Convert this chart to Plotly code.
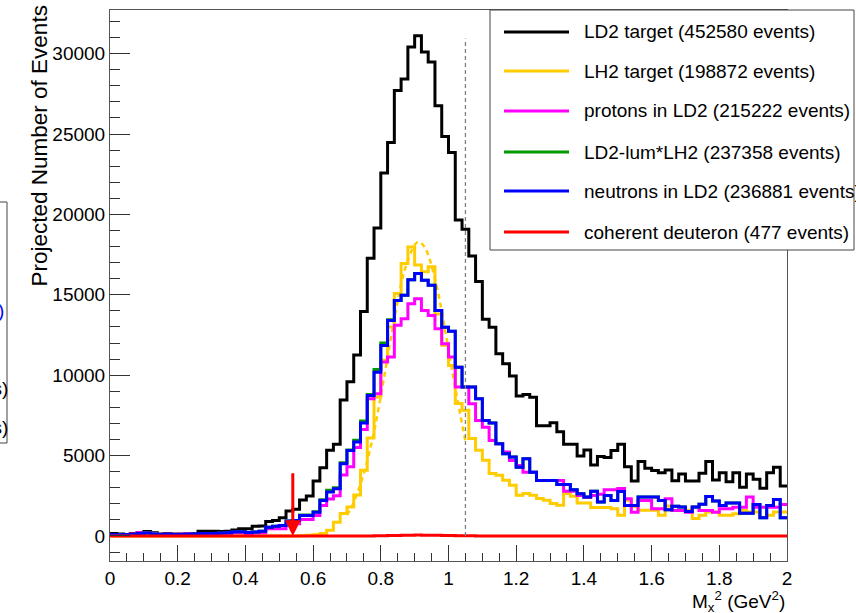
import plotly.graph_objects as go

# ---- binning: 100 bins of M_x^2 between 0 and 2 GeV^2 ----
X_MIN, X_MAX, N_BINS = 0.0, 2.0, 100
BIN_W = (X_MAX - X_MIN) / N_BINS

# ---- bin contents (events per bin) ----
ld2_target = [
    150, 120, 100, 150, 200, 280, 200, 130, 150, 120,
    130, 120, 150, 300, 300, 300, 280, 300, 370, 450,
    450, 600, 620, 900, 970, 1140, 1550, 1660, 2240, 2490,
    3420, 4250, 5330, 5700, 8460, 9600, 11260, 13960, 17280, 19150,
    22570, 24480, 27710, 28420, 30410, 31110, 30100, 29480, 26760, 24850,
    23850, 19660, 19080, 17420, 15830, 13480, 12990, 11330, 10720, 9950,
    8700, 8800, 8630, 6860, 6860, 7050, 6490, 5700, 5700, 4980,
    5350, 4420, 4940, 4880, 5310, 5700, 4310, 3420, 4630, 4210,
    4070, 3940, 4110, 3440, 3860, 3420, 3420, 3900, 4630, 3480,
    3940, 3380, 3940, 3030, 3860, 3530, 2970, 3940, 4270, 3110,
]

lh2_target = [
    0, 0, 0, 0, 0, 0, 0, 0, 0, 0,
    0, 0, 0, 0, 0, 0, 0, 0, 0, 0,
    0, 0, 0, 0, 0, 0, 0, 0, 20, 50,
    80, 150, 350, 850, 1400, 1800, 2550, 4090, 6100, 8650,
    10930, 13000, 15080, 16950, 17980, 16850, 16430, 16740, 13800, 11870,
    10600, 8240, 7820, 6060, 5330, 4710, 3880, 3780, 3470, 3160,
    2530, 2640, 2530, 2330, 2220, 2020, 1910, 2640, 2470, 2050,
    2050, 1770, 1770, 1770, 1700, 1290, 2220, 1830, 1600, 1600,
    1600, 1290, 1870, 1600, 1600, 1600, 1080, 1290, 1490, 1490,
    1290, 1290, 1390, 1600, 1490, 1490, 1150, 1290, 1490, 1490,
]

protons_ld2 = [
    100, 90, 100, 120, 200, 200, 150, 100, 130, 100,
    110, 150, 130, 150, 150, 130, 150, 170, 200, 200,
    150, 180, 200, 450, 450, 450, 760, 760, 1030, 1030,
    1280, 1900, 2300, 2500, 3800, 4300, 5500, 6630, 8540, 8850,
    10820, 11130, 13100, 13510, 14450, 14760, 14030, 13720, 12890, 11960,
    11130, 9260, 9260, 8230, 7190, 6770, 5940, 5740, 5220, 4700,
    4390, 3970, 3970, 3450, 3450, 3450, 3450, 2790, 2790, 2520,
    2400, 2520, 2600, 2870, 2870, 2950, 2310, 1480, 2210, 2210,
    1690, 1690, 2310, 1590, 1590, 1480, 1790, 1590, 1590, 1480,
    1690, 1690, 1790, 1790, 2420, 1790, 1790, 1790, 1790, 1960,
]

ld2_minus_lh2 = [
    100, 80, 90, 100, 150, 180, 120, 100, 110, 90,
    100, 110, 120, 150, 160, 150, 180, 200, 270, 270,
    220, 240, 300, 550, 610, 650, 930, 960, 1300, 1300,
    1500, 2250, 2850, 3000, 4550, 5350, 5950, 7150, 8800, 10350,
    12000, 13450, 14650, 14970, 15940, 16320, 15900, 15590, 14030, 12990,
    12730, 10500, 9260, 9260, 8540, 7190, 7020, 5740, 5120, 4910,
    4280, 4800, 3970, 3450, 3450, 3450, 3200, 3200, 2870, 2630,
    2420, 2790, 2110, 2520, 2210, 2770, 1900, 1900, 2420, 2420,
    2420, 2200, 1630, 1850, 1800, 1520, 1800, 1980, 2460, 2170,
    1900, 2050, 2050, 1420, 1420, 1960, 1130, 1900, 2270, 1130,
]

neutrons_ld2 = [
    100, 80, 90, 100, 150, 180, 120, 100, 110, 90,
    100, 110, 120, 150, 160, 150, 180, 200, 270, 270,
    220, 240, 300, 550, 610, 650, 930, 960, 1280, 1280,
    1480, 2210, 2730, 2940, 4490, 5320, 5840, 7020, 8740, 10190,
    11850, 13410, 14650, 14970, 15940, 16320, 15900, 15590, 14030, 12990,
    12730, 10500, 9260, 9260, 8540, 7190, 7020, 5740, 5120, 4910,
    4280, 4800, 3970, 3450, 3450, 3450, 3200, 3200, 2870, 2630,
    2420, 2790, 2110, 2520, 2210, 2770, 1900, 1900, 2420, 2420,
    2420, 2200, 1630, 1850, 1800, 1520, 1800, 1980, 2460, 2170,
    1900, 2050, 2050, 1420, 1420, 1960, 1130, 1900, 2270, 1130,
]

coherent_deuteron = [0] * 38 + [
    5, 10, 15, 25, 35, 45, 50, 55, 50, 45,
    40, 30, 25, 20, 15, 10, 5,
] + [0] * 45

# Gaussian fit to the LH2 peak, sampled along the fit range
fit_x = [0.70, 0.72, 0.75, 0.78, 0.81, 0.84, 0.87, 0.90, 0.912, 0.93, 0.96, 0.99, 1.02, 1.05]
fit_y = [1300, 2100, 3900, 6500, 9900, 13500, 16500, 18100, 18300, 17950, 16000, 12800, 9200, 5900]

series_names = [
    "LD2 target (452580 events)",
    "LH2 target (198872 events)",
    "protons in LD2 (215222 events)",
    "LD2-lum*LH2 (237358 events)",
    "neutrons in LD2 (236881 events)",
    "coherent deuteron (477 events)",
]
series_colors = ["#000000", "#FFCC00", "#FF00FF", "#009900", "#0000FF", "#FF0000"]

cut_x = 1.05          # vertical dashed cut line
cut_top = 30950
arrow_x = 0.54        # threshold arrow
arrow_top = 4000

FONT = "Liberation Sans, Arial, Helvetica, sans-serif"

# ---- figure geometry (pixels) ----
W, H = 856, 613
ML, MR, MT, MB = 110, 69, 10, 52
PW, PH = W - ML - MR, H - MT - MB


def px_x(p):
    return (p - ML) / PW


def px_y(p):
    return (H - MB - p) / PH


edges = [X_MIN + BIN_W * i for i in range(N_BINS + 1)]

fig = go.Figure()


def add_hist(values, color, width=3):
    fig.add_trace(go.Scatter(
        x=edges, y=list(values) + [values[-1]],
        mode="lines", line=dict(color=color, width=width, shape="hv"),
        showlegend=False, hoverinfo="skip",
    ))


add_hist(ld2_target, series_colors[0])
add_hist(lh2_target, series_colors[1])
fig.add_trace(go.Scatter(
    x=fit_x, y=fit_y, mode="lines",
    line=dict(color=series_colors[1], width=2.5, dash="5px,4px", shape="spline"),
    showlegend=False, hoverinfo="skip",
))
add_hist(protons_ld2, series_colors[2])
add_hist(ld2_minus_lh2, series_colors[3])
add_hist(neutrons_ld2, series_colors[4])
add_hist(coherent_deuteron, series_colors[5])

# dashed cut line
fig.add_shape(type="line", xref="x", yref="y", x0=cut_x, x1=cut_x, y0=0, y1=cut_top,
              line=dict(color="#808080", width=1.3, dash="4px,3px"))

# threshold arrow
fig.add_annotation(x=arrow_x, y=0, ax=arrow_x, ay=arrow_top, xref="x", yref="y",
                   axref="x", ayref="y", text="", showarrow=True,
                   arrowhead=2, arrowsize=1.05, arrowwidth=3, arrowcolor="#FF0000")

# ---- legend box ----
LEG_L, LEG_T, LEG_R, LEG_B = 490, 10, 854, 250
fig.add_shape(type="rect", xref="paper", yref="paper",
              x0=px_x(LEG_L), x1=px_x(LEG_R), y0=px_y(LEG_B), y1=px_y(LEG_T),
              line=dict(color="#444444", width=1), fillcolor="white", layer="above")
row_y = [32, 71, 111, 152, 191, 232]
for name, color, ry in zip(series_names, series_colors, row_y):
    fig.add_shape(type="line", xref="paper", yref="paper",
                  x0=px_x(504), x1=px_x(569), y0=px_y(ry), y1=px_y(ry),
                  line=dict(color=color, width=3), layer="above")
    fig.add_annotation(xref="paper", yref="paper", x=px_x(582), y=px_y(ry),
                       xanchor="left", yanchor="middle", text=name, showarrow=False,
                       font=dict(family=FONT, size=19, color="black"))

# second legend box at the left edge of the canvas
fig.add_shape(type="rect", xref="paper", yref="paper",
              x0=px_x(-60), x1=px_x(7), y0=px_y(443), y1=px_y(202),
              line=dict(color="#444444", width=1), fillcolor="white")
for txt, color, ry, right in [("events)", "#0000FF", 310, 6),
                              ("events)", "black", 388, 10),
                              ("events)", "black", 427, 10)]:
    fig.add_annotation(xref="paper", yref="paper", x=px_x(right), y=px_y(ry),
                       xanchor="right", yanchor="middle", text=txt, showarrow=False,
                       font=dict(family=FONT, size=19, color=color))

# axis titles
fig.add_annotation(xref="paper", yref="paper", x=1.0, y=px_y(601),
                   xanchor="right", yanchor="middle", showarrow=False,
                   text="M<sub>x</sub><sup>2</sup> (GeV<sup>2</sup>)",
                   font=dict(family=FONT, size=19, color="black"))
fig.add_annotation(xref="paper", yref="paper", x=px_x(39), y=px_y(4),
                   xanchor="center", yanchor="top", textangle=-90, showarrow=False,
                   text="Projected Number of Events",
                   font=dict(family=FONT, size=22.5, color="black"))

axis_common = dict(
    showgrid=False, zeroline=False, showline=True, mirror=True,
    linecolor="#555555", linewidth=1, ticks="inside", tickcolor="#333333",
    tickwidth=1, tickfont=dict(family=FONT, size=19, color="black"),
)
fig.update_xaxes(range=[X_MIN, X_MAX], tick0=0, dtick=0.2, ticklen=16,
                 minor=dict(dtick=0.05, ticklen=8, ticks="inside", tickcolor="#333333"),
                 **axis_common)
fig.update_yaxes(range=[-1556, 32715], tick0=0, dtick=5000, ticklen=20, tickformat="d",
                 minor=dict(dtick=1000, ticklen=10, ticks="inside", tickcolor="#333333"),
                 **axis_common)

fig.update_layout(
    width=W, height=H, margin=dict(l=ML, r=MR, t=MT, b=MB, autoexpand=False),
    paper_bgcolor="white", plot_bgcolor="white", showlegend=False,
)

fig.write_html("out.html")
